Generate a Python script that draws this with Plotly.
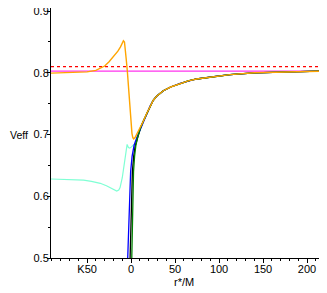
import plotly.graph_objects as go

# ---- data ----
common_r = [11, 14, 18, 21.6, 25, 29, 36.7, 45, 55.7, 65, 74.6, 93.5, 112.5, 140, 165, 190, 217]
common_v = [0.712, 0.722, 0.735, 0.746, 0.755, 0.762, 0.771, 0.777, 0.783, 0.787, 0.790, 0.794, 0.797, 0.800, 0.801, 0.802, 0.8027]

black_r = [-1.1, -0.3, 0.5, 1.5, 3, 4.5, 6.4, 8.3] + common_r
black_v = [0.50, 0.55, 0.60, 0.64, 0.665, 0.68, 0.69, 0.700] + common_v

blue_r = [-3.8, -2.8, -1.8, -0.5, 1.2, 3.5, 6.5, 8.5] + common_r
blue_v = [0.50, 0.55, 0.60, 0.64, 0.665, 0.683, 0.695, 0.702] + common_v

green_r = [0.8, 1.3, 2.0, 2.8, 4.0, 5.5, 7.5, 9.0] + common_r
green_v = [0.50, 0.55, 0.60, 0.64, 0.665, 0.683, 0.696, 0.703] + common_v

cyan_r = [-91, -80, -70, -54, -45, -35, -28, -24, -20, -16.3, -14, -12.5, -10, -8, -6.5, -5.5, -4.5,
          -3, -1.5, 0.5, 2.5, 4.5, 6.4, 8.3] + common_r
cyan_v = [0.628, 0.6275, 0.627, 0.626, 0.624, 0.621, 0.617, 0.614, 0.611, 0.6085, 0.610, 0.614, 0.630,
          0.650, 0.672, 0.682, 0.684, 0.679, 0.678, 0.680, 0.683, 0.684, 0.69, 0.700] + common_v

orange_r = [-91, -80, -70, -60, -50, -40, -35, -30, -25, -20, -15, -12, -10, -8.7, -7.5, -6.5, -5.5,
            -4.2, -3, -2, -1, 0, 1, 2, 3, 4.5, 6, 8] + common_r
orange_v = [0.7995, 0.7998, 0.800, 0.8005, 0.8015, 0.804, 0.807, 0.811, 0.818, 0.826, 0.835, 0.842,
            0.848, 0.852, 0.850, 0.840, 0.822, 0.802, 0.775, 0.752, 0.733, 0.715, 0.702, 0.695, 0.693,
            0.695, 0.699, 0.705] + common_v

red_level = 0.81
magenta_level = 0.8027
x_range = [-91, 217]

xtick_vals = [-50, 0, 50, 100, 150, 200]
xtick_text = ["K50", "0", "50", "100", "150", "200"]
ytick_vals = [0.5, 0.6, 0.7, 0.8, 0.9]
ytick_text = ["0.5", "0.6", "0.7", "0.8", "0.9"]

fig = go.Figure()
fig.add_trace(go.Scatter(x=x_range, y=[red_level, red_level], mode="lines",
                         line=dict(color="red", width=1.3, dash="dot")))
fig.add_trace(go.Scatter(x=x_range, y=[magenta_level, magenta_level], mode="lines",
                         line=dict(color="#ff33ee", width=1.2)))
fig.add_trace(go.Scatter(x=cyan_r, y=cyan_v, mode="lines", line=dict(color="#7fffd4", width=1.2)))
fig.add_trace(go.Scatter(x=black_r, y=black_v, mode="lines", line=dict(color="black", width=1.3)))
fig.add_trace(go.Scatter(x=blue_r, y=blue_v, mode="lines", line=dict(color="blue", width=1.3)))
fig.add_trace(go.Scatter(x=green_r, y=green_v, mode="lines", line=dict(color="green", width=1.3)))
fig.add_trace(go.Scatter(x=orange_r, y=orange_v, mode="lines", line=dict(color="orange", width=1.4)))

# the page body adds an 8px offset, so the figure is sized to fit the window after it
fig.update_layout(
    width=319, height=285,
    margin=dict(l=43, r=5, t=0, b=35),
    paper_bgcolor="white", plot_bgcolor="white",
    showlegend=False,
    font=dict(family="Liberation Sans, Arial", size=11, color="black"),
    xaxis=dict(range=x_range, tickmode="array", tickvals=xtick_vals, ticktext=xtick_text,
               showgrid=False, zeroline=False, showline=True, linecolor="black", linewidth=1,
               mirror=True, ticks="outside", ticklen=4, tickcolor="black", automargin=False,
               ticklabelstandoff=-3, ticklabeloverflow="allow",
               minor=dict(dtick=10, tick0=0, ticks="outside", ticklen=2, tickcolor="black", showgrid=False)),
    yaxis=dict(range=[0.5, 0.905], tickmode="array", tickvals=ytick_vals, ticktext=ytick_text,
               showgrid=False, zeroline=False, showline=True, linecolor="black", linewidth=1,
               ticks="outside", ticklen=3, tickcolor="black", automargin=False,
               ticklabelstandoff=-4, ticklabeloverflow="allow",
               minor=dict(dtick=0.05, tick0=0.5, ticks="outside", ticklen=2, tickcolor="black", showgrid=False)),
    shapes=[dict(type="line", xref="paper", yref="paper", x0=1, x1=1, y0=0, y1=1,
                 line=dict(color="#999999", width=2))],
    annotations=[
        dict(text="Veff", xref="paper", yref="y", x=-0.1587, y=0.7, xanchor="left", yanchor="middle",
             showarrow=False, font=dict(size=10.5)),
        dict(text="r*/M", xref="x", yref="paper", x=46, y=-0.094, xanchor="left", yanchor="middle",
             showarrow=False, font=dict(size=11)),
    ],
)

fig.write_html("out.html")
